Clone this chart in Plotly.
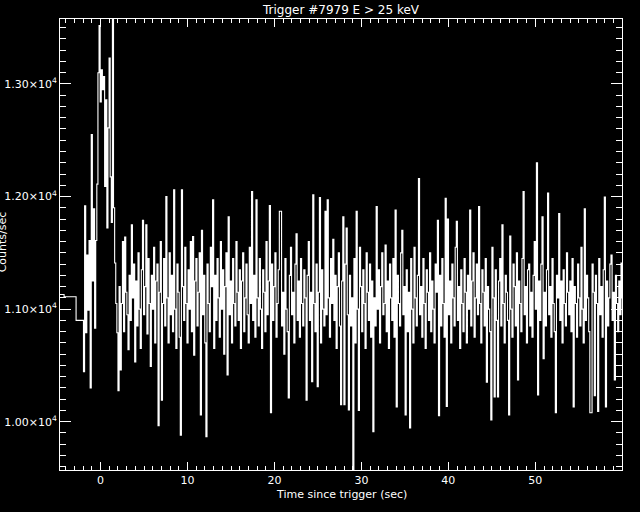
import numpy as np
import plotly.graph_objects as go

# ---- data ----
pre_times = [-5.12, -4.20, -2.82]
pre_counts = [11130, 11110, 10900]

fine_start = -1.97
fine_width = 0.128
fine_counts = [
    10444, 11917, 10790, 11480, 10990, 11610, 10300, 12550, 11250, 11890,
    10830, 11610, 12110, 13100, 13518, 12840, 13125, 12950, 13065, 12090,
    12860, 11720, 12610, 13230, 12175, 11770, 13700, 11900, 11410, 11050,
    10790,
    10275, 11200, 10460, 11050, 11600, 10800, 11640, 11150, 10950, 10640,
    11300, 10900, 11750, 11100, 11400, 10530, 11250, 10850, 11500, 11000,
    10650, 11350, 11790, 10950, 11200, 11750, 10780, 11450, 11050, 10490,
    11300, 11000, 11550, 10700, 11250, 11400, 9965, 11150, 11600, 10190,
    11050, 11450, 10850, 12000, 11100, 10700, 11500, 10950, 11300, 10800,
    12060, 11000, 10650, 11400, 11150, 10750, 9880, 12060, 11200, 10900,
    11550, 11050, 10700, 11350, 11000, 11600, 10800, 11645, 10590, 11250,
    11450, 10850, 11150, 11500, 10060, 11700, 10950, 11300, 10700, 9867,
    11400, 11050, 10800, 11550, 11200, 11970, 10650, 11300, 10900, 11450,
    11100, 10750, 11600, 11000, 11350, 10600, 11200, 11500, 10415, 11820,
    10950, 11250, 10700, 11450, 11050, 10850, 11600, 11150, 10900, 11350,
    10650, 11250, 11500, 10800, 11100, 11400, 10950, 10700, 11550, 11050,
    12045, 10900, 11300, 10750, 11970, 11100, 10850, 11450, 11000, 10650,
    11350, 11150, 10800, 11600, 10950, 11250, 11920, 10080, 11400, 10900,
    11200, 11500, 10750, 11050, 11350, 11870, 11870, 10850, 11150, 10600,
    11450, 11000, 10800, 10210, 11300, 11550, 10950, 11150, 10700, 11400,
    11670, 10900, 11250, 10750, 11450, 11050, 10850, 11350, 11100, 10190,
    11300, 11600, 10900, 11150, 10355, 12015, 11050, 10800, 11400, 10311,
    11150, 11990, 10700, 11350, 11000, 10850, 11870, 10950, 11970, 11100,
    10750, 11450, 11050, 11620, 10900, 11300, 10650, 11200, 11500, 10850,
    10150, 11250, 11820, 10150, 11400, 11720, 10950, 10104, 11300, 10850,
    11100, 9300, 11450, 10700, 11870, 11000, 10100, 11550, 11200, 10800,
    11350, 11050, 10650, 11500, 11150, 10900, 11400, 10750, 11250, 9911,
    11100, 10850, 11910, 11000, 11350, 10700, 11200, 11500, 10950, 11050,
    11570, 10800, 11250, 10650, 11400, 11100, 10900, 11450, 10750, 11880,
    10130, 11300, 11050, 10850, 11500, 11700, 10950, 11200, 10060, 11350,
    10800, 11150, 9945, 11450, 11000, 10700, 11550, 11100, 10850, 11300,
    12160, 10950, 11200, 10750, 11450, 11050, 10650, 11350, 11150, 10900,
    11500, 10800, 11250, 11000, 10700, 11400, 11150, 11790, 10054, 11300,
    10850, 11450, 11050, 10750, 11985, 10135, 11800, 10950, 11250, 10700,
    11400, 11100, 10850, 11550, 11780, 10900, 11200, 10650, 11350, 11050,
    10800, 11450, 11150, 10700, 11300, 11000, 11880, 10850, 11250, 11500,
    10750, 11100, 11400, 10950, 11910, 11050, 10700, 11350, 11150, 10850,
    11450, 10350, 11200, 11000, 10800, 10015, 11550, 11100, 10220, 11350,
    10900, 10220, 11250, 11450, 10850, 11750, 11050, 10700, 11300, 11150,
    10900, 10060, 11650, 11000, 10750, 11400, 11200, 10850, 11500, 10370,
    11250, 11050, 10800, 11450, 12045, 10950, 11200, 10700, 11350, 11400,
    10850, 11150, 10750, 11300, 11600, 11000, 12300, 10237, 11250, 10900,
    11400, 11820, 10560, 11150, 10850, 11350, 12030, 10950, 11200, 10750,
    11450, 11050, 10800, 10080, 11300, 11100, 11850, 10900, 11250, 10700,
    11350, 11050, 10850, 11500, 11150, 10950, 11250, 10800, 11450, 10130,
    11200, 11050, 10750, 11400, 11100, 10850, 11550, 11000, 10700, 11890,
    10900, 11300, 11100, 10800, 10080, 10080, 11400, 11150, 10230, 11300,
    11050, 10090, 11450, 10950, 11200, 10750, 11350, 11995, 10130, 11250,
    10850, 11100, 11400, 11480, 10900, 11150, 10370, 11300, 11050, 10800,
    11250, 10950, 11410, 11100,
]

x_range = [-4.67, 59.97]
y_range = [9571, 13577]
x_tickvals = [0, 10, 20, 30, 40, 50]
y_tickvals = [10000, 11000, 12000, 13000]
y_ticktext = ["1.00×10<sup>4</sup>", "1.10×10<sup>4</sup>",
              "1.20×10<sup>4</sup>", "1.30×10<sup>4</sup>"]
title_text = "Trigger #7979 E > 25 keV"
x_title = "Time since trigger (sec)"
y_title = "Counts/sec"

# ---- build ----
fine_times = list(fine_start + fine_width * np.arange(len(fine_counts)))
times = pre_times + fine_times + [fine_times[-1] + fine_width]
counts = pre_counts + fine_counts + [fine_counts[-1]]

fig = go.Figure()
fig.add_trace(go.Scatter(x=times, y=counts, mode="lines",
                         line=dict(color="white", width=1.1, shape="hv"),
                         hoverinfo="skip"))

font = dict(family="DejaVu Sans", size=11, color="white")

fig.update_layout(
    width=640, height=512,
    paper_bgcolor="black", plot_bgcolor="black",
    margin=dict(l=60, r=18, t=19, b=42, autoexpand=False),
    showlegend=False,
    font=font,
    xaxis=dict(range=x_range, showgrid=False, zeroline=False, automargin=False,
               showline=True, linecolor="white", linewidth=1,
               mirror="allticks", ticks="inside", ticklen=8,
               tickcolor="white", tickwidth=1,
               tickvals=x_tickvals, tickfont=font,
               minor=dict(dtick=1, ticks="inside", ticklen=4,
                          tickcolor="white", tickwidth=1, showgrid=False)),
    yaxis=dict(range=y_range, showgrid=False, zeroline=False, automargin=False,
               showline=True, linecolor="white", linewidth=1,
               mirror="allticks", ticks="inside", ticklen=11,
               tickcolor="white", tickwidth=1,
               tickvals=y_tickvals, ticktext=y_ticktext, tickfont=font,
               minor=dict(dtick=100, ticks="inside", ticklen=6,
                          tickcolor="white", tickwidth=1, showgrid=False)),
    annotations=[
        dict(text=title_text, xref="paper", yref="paper",
             x=0.5, y=1, yshift=9, xanchor="center", yanchor="middle",
             showarrow=False, font=dict(family="DejaVu Sans", size=12, color="white")),
        dict(text=x_title, xref="paper", yref="paper",
             x=0.5, y=0, yshift=-24, xanchor="center", yanchor="middle",
             showarrow=False, font=font),
        dict(text=y_title, xref="paper", yref="paper",
             x=-0.103, y=0.505, xanchor="center", yanchor="middle",
             textangle=-90, showarrow=False, font=font),
    ],
)

fig.write_html("out.html",
               config={"displayModeBar": False},
               post_script="document.body.style.margin='0px';document.body.style.background='black';")
